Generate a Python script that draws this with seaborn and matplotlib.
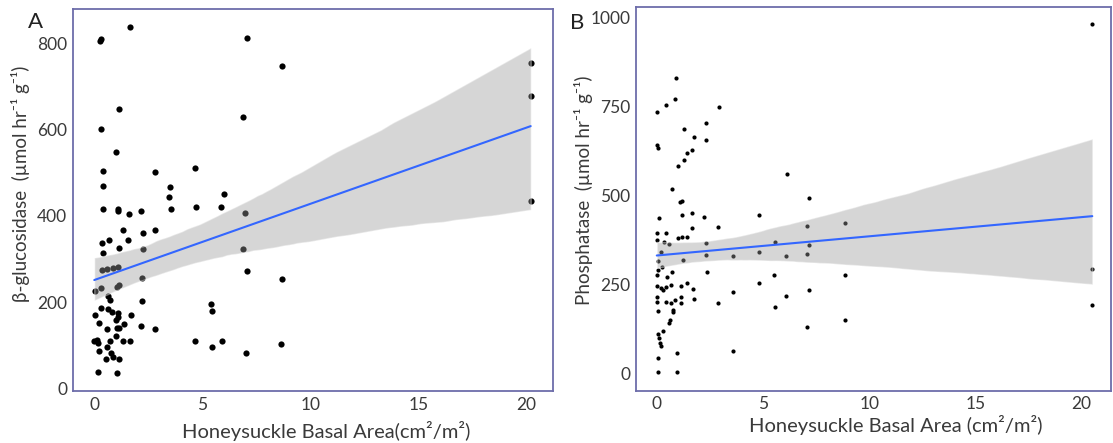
# Honeysuckle basal area vs enzyme activity (two panels)
import numpy as np
import pandas as pd
import matplotlib.pyplot as plt
import seaborn as sns

sns.set_theme(style="white")
plt.rcParams['font.family'] = ['Lato', 'DejaVu Sans']

# --- data ---
# Panel A: beta-glucosidase
gluc_x = [0.30, 0.28, 1.65, 7.05, 8.70, 1.16, 0.31, 6.90, 1.00, 0.42, 2.81, 4.68, 0.39,
          3.50, 3.44, 6.00, 0.42, 1.10, 1.12, 1.59, 2.18, 3.57, 4.72, 5.87, 6.98,
          1.34, 2.24, 2.81, 1.55, 0.36, 0.68, 0.39, 1.16, 2.24, 6.90, 7.05, 8.69,
          0.34, 0.57, 0.88, 1.11, 2.19, 0.03, 0.30, 1.04, 1.16, 2.19, 0.65, 0.73,
          0.30, 0.65, 0.80, 1.11, 1.08, 1.00, 1.69, 0.03, 0.23, 1.39, 0.57, 1.04,
          1.16, 2.16, 2.83,
          1.00, 0.00, 0.14, 0.19, 0.73, 1.34, 1.65, 0.57, 0.22, 0.76, 0.53, 0.88,
          1.16, 0.19, 1.06,
          4.68, 5.46, 5.90, 7.02, 8.64, 5.39, 5.46,
          20.2, 20.2, 20.2]
gluc_y = [810, 805, 838, 811, 747, 648, 601, 629, 547, 504, 502, 510, 470,
          467, 443, 451, 415, 415, 410, 404, 411, 415, 421, 421, 407,
          368, 360, 368, 345, 336, 345, 313, 326, 323, 323, 272, 254,
          274, 276, 279, 282, 255, 226, 232, 234, 239, 203, 214, 205,
          187, 183, 177, 175, 166, 158, 171, 170, 152, 149, 137, 139,
          140, 145, 137,
          121, 110, 112, 106, 110, 110, 110, 96, 86, 81, 69, 72,
          69, 38, 35,
          110, 96, 110, 81, 102, 195, 179,
          753, 678, 435]

# Panel B: phosphatase
phos_x = [0.89, 0.03, 0.44, 0.85, 2.93, 1.28, 2.30, 0.03, 0.08, 1.77, 2.30, 1.65, 1.41,
          1.28, 1.02, 6.13, 0.71, 7.18, 1.10, 1.20, 0.11, 1.18, 1.65, 2.24, 4.83,
          2.90, 1.65, 7.06, 8.88, 0.00, 0.44, 0.00, 0.36, 0.59, 1.02, 1.18, 1.41,
          2.30, 5.57, 7.15, 0.19, 4.83, 0.08, 1.22, 2.32, 3.60, 6.08, 7.06,
          0.24, 0.08, 0.71, 2.35, 5.53, 8.88, 0.03, 0.47, 0.03, 0.19, 0.31, 0.44,
          0.66, 1.13, 1.41, 1.72, 3.58, 4.83, 7.18, 0.03, 0.03, 0.44, 0.66, 0.86,
          1.13, 1.13, 1.77, 2.90, 6.08, 5.57, 0.08, 0.75, 0.78, 0.63, 0.59, 8.88,
          7.09, 0.28, 0.08, 0.10, 0.14, 0.22, 3.58, 0.94, 0.08, 0.05, 0.97,
          20.5, 20.5, 20.5]
phos_y = [829, 735, 754, 771, 749, 687, 703, 642, 634, 664, 655, 628, 619,
          601, 583, 561, 518, 493, 482, 484, 436, 446, 452, 441, 446,
          411, 408, 415, 422, 396, 396, 376, 371, 364, 380, 383, 385,
          366, 371, 362, 343, 343, 317, 318, 333, 331, 331, 336,
          301, 292, 287, 287, 278, 276, 278, 273, 247, 240, 236, 243,
          250, 247, 256, 237, 231, 256, 234, 217, 203, 203, 200, 206,
          215, 200, 209, 198, 219, 187, 177, 175, 179, 151, 142, 151,
          131, 121, 112, 100, 88, 78, 63, 60, 44, 4, 4,
          981, 293, 193]

x_ticks = [0, 5, 10, 15, 20]
frame_col = '#6d6daa'
text_col = '#3a3a3a'


def draw_panel(ax, x, y, dot_size, ci=95):
    df = pd.DataFrame({'area': x, 'act': y})
    sns.scatterplot(data=df, x='area', y='act', ax=ax, color='black',
                    s=dot_size, linewidth=0, zorder=2)
    sns.regplot(data=df, x='area', y='act', ax=ax, scatter=False,
                color='#3366ff', seed=0, ci=ci,
                line_kws={'lw': 1.5, 'zorder': 4})
    # ggplot-like grey band drawn over the points
    band = ax.collections[-1]
    band.set_facecolor('#999999')
    band.set_alpha(0.4)
    band.set_zorder(3)
    for sp in ax.spines.values():
        sp.set_color(frame_col)
        sp.set_linewidth(1.3)
    ax.tick_params(length=0, labelsize=12.5, labelcolor=text_col, pad=4)
    ax.set_xticks(x_ticks)


fig = plt.figure(figsize=(11.13, 4.43), dpi=100)
ax1 = fig.add_axes([0.0653, 0.1174, 0.4313, 0.8612])
ax2 = fig.add_axes([0.5712, 0.1181, 0.4270, 0.8655])

draw_panel(ax1, gluc_x, gluc_y, 20)
ax1.set_xlim(-1.0, 21.22)
ax1.set_ylim(-6, 878)
ax1.set_yticks([0, 200, 400, 600, 800])
ax1.set_xlabel('Honeysuckle Basal Area(cm²/m²)', fontsize=14.5, color=text_col)
ax1.set_ylabel('β-glucosidase  (µmol hr⁻¹ g⁻¹)', fontsize=13.5, color=text_col)
ax1.xaxis.set_label_coords(0.528, -0.079)
ax1.yaxis.set_label_coords(-0.089, 0.543)

draw_panel(ax2, phos_x, phos_y, 9, ci=85)
ax2.set_xlim(-0.99, 21.38)
ax2.set_ylim(-47, 1028)
ax2.set_yticks([0, 250, 500, 750, 1000])
ax2.set_xlabel('Honeysuckle Basal Area (cm²/m²)', fontsize=14.5, color=text_col)
ax2.set_ylabel('Phosphatase  (µmol hr⁻¹ g⁻¹)', fontsize=13.5, color=text_col)
ax2.xaxis.set_label_coords(0.548, -0.063)
ax2.yaxis.set_label_coords(-0.0898, 0.523)

fig.text(0.0315, 0.951, 'A', fontsize=16, color='#222222', ha='center', va='center')
fig.text(0.519, 0.949, 'B', fontsize=16, color='#222222', ha='center', va='center')

fig.savefig('out.png', dpi=100)
plt.close(fig)
